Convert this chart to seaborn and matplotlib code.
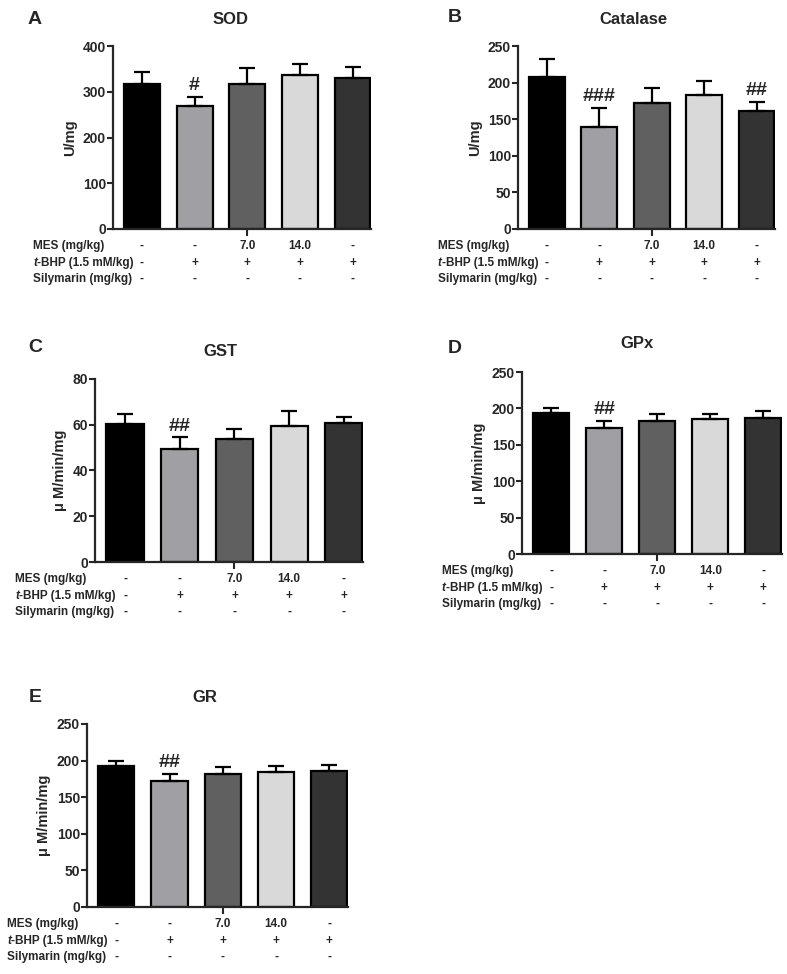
import numpy as np
import pandas as pd
import matplotlib
matplotlib.use('Agg')
import matplotlib.pyplot as plt
import seaborn as sns
from matplotlib.transforms import blended_transform_factory

sns.set_style('ticks')
plt.rcParams['font.family'] = ['Liberation Sans', 'DejaVu Sans']
plt.rcParams['font.weight'] = 'bold'
plt.rcParams['axes.labelweight'] = 'bold'

# --- Data ---
groups = ['G1', 'G2', 'G3', 'G4', 'G5']
bar_colors = ['#000000', '#a0a0a4', '#606060', '#d9d9d9', '#333333']

row_labels = ['MES (mg/kg)', '-BHP (1.5 mM/kg)', 'Silymarin (mg/kg)']
mes_row = ['-', '-', '7.0', '14.0', '-']
tbhp_row = ['-', '+', '+', '+', '+']
sily_row = ['-', '-', '-', '-', '-']

sod_mean = [318, 268, 317, 337, 329]
sod_err = [26, 20, 34, 23, 26]
sod_marks = ['', '#', '', '', '']

cat_mean = [207, 140, 172, 183, 161]
cat_err = [25, 25, 20, 19, 13]
cat_marks = ['', '###', '', '', '##']

gst_mean = [60.4, 49.3, 53.7, 59.5, 60.6]
gst_err = [4.2, 5.2, 4.5, 6.5, 3.0]
gst_marks = ['', '##', '', '', '']

gpx_mean = [193, 173, 183, 185, 187]
gpx_err = [7, 10, 9, 7, 9]
gpx_marks = ['', '##', '', '', '']

gr_mean = [192, 172, 182, 185, 186]
gr_err = [7, 10, 9, 7, 8]
gr_marks = ['', '##', '', '', '']

W, H = 787, 974
fig = plt.figure(figsize=(W / 100, H / 100), dpi=100)


def px_axes(l, t, r, b):
    return fig.add_axes([l / W, 1 - b / H, (r - l) / W, (b - t) / H])


def draw_panel(box, letter, letter_xy, title, title_xy, ylabel, ymax, ystep,
               mean, err, marks):
    ax = px_axes(*box)
    df = pd.DataFrame({'group': groups, 'value': mean})
    sns.barplot(data=df, x='group', y='value', hue='group', palette=bar_colors,
                legend=False, width=0.68, edgecolor='black', linewidth=1.6,
                errorbar=None, ax=ax)
    ax.errorbar(range(len(groups)), mean, yerr=[np.zeros(len(err)), err],
                fmt='none', ecolor='black', elinewidth=1.6, capsize=6,
                capthick=1.6, zorder=1)
    for i, m in enumerate(marks):
        if m:
            ax.annotate(m, xy=(i, mean[i] + err[i]), xytext=(0, 2),
                        textcoords='offset points', ha='center', va='bottom',
                        fontsize=14, fontweight='bold')

    ax.set_xlim(-0.55, 4.35)
    ax.set_ylim(0, ymax)
    ax.set_yticks(np.arange(0, ymax + 1, ystep))
    ax.set_xticks([2])
    ax.set_xticklabels([''])
    ax.set_xlabel('')
    ax.set_ylabel(ylabel, fontsize=10.5, labelpad=4)
    ax.tick_params(axis='y', labelsize=10, length=4, width=1.5, pad=1)
    ax.tick_params(axis='x', length=5, width=1.5)
    sns.despine(ax=ax)
    for s in ['left', 'bottom']:
        ax.spines[s].set_linewidth(1.6)

    # treatment table under the bars
    trans = blended_transform_factory(ax.transData, ax.transAxes)
    offsets = [-17, -34, -50]
    for dy, vals in zip(offsets, [mes_row, tbhp_row, sily_row]):
        for i, v in enumerate(vals):
            ax.annotate(v, xy=(i, 0), xycoords=trans, xytext=(0, dy),
                        textcoords='offset pixels', ha='center', va='center',
                        fontsize=8.5, annotation_clip=False)
    ax.annotate(row_labels[0], xy=(0, 0), xycoords='axes fraction',
                xytext=(-80, offsets[0]), textcoords='offset pixels',
                ha='left', va='center', fontsize=8.5)
    ax.annotate('t', xy=(0, 0), xycoords='axes fraction',
                xytext=(-80, offsets[1]), textcoords='offset pixels',
                ha='left', va='center', fontsize=8.5, fontstyle='italic')
    ax.annotate(row_labels[1], xy=(0, 0), xycoords='axes fraction',
                xytext=(-76, offsets[1]), textcoords='offset pixels',
                ha='left', va='center', fontsize=8.5)
    ax.annotate(row_labels[2], xy=(0, 0), xycoords='axes fraction',
                xytext=(-80, offsets[2]), textcoords='offset pixels',
                ha='left', va='center', fontsize=8.5)

    fig.text(letter_xy[0] / W, 1 - letter_xy[1] / H, letter, fontsize=14,
             ha='center', va='center')
    fig.text(title_xy[0] / W, 1 - title_xy[1] / H, title, fontsize=12,
             ha='center', va='center')
    return ax


draw_panel((113, 46, 371, 229), 'A', (35, 20), 'SOD', (231, 20), 'U/mg',
           400, 100, sod_mean, sod_err, sod_marks)
draw_panel((518, 46, 775, 229), 'B', (455, 17), 'Catalase', (633, 20), 'U/mg',
           250, 50, cat_mean, cat_err, cat_marks)
draw_panel((95, 379, 363, 562), 'C', (35, 347), 'GST', (220, 352),
           'μ M/min/mg', 80, 20, gst_mean, gst_err, gst_marks)
draw_panel((522, 372, 782, 554), 'D', (455, 348), 'GPx', (637, 343),
           'μ M/min/mg', 250, 50, gpx_mean, gpx_err, gpx_marks)
draw_panel((87, 724, 348, 907), 'E', (35, 697), 'GR', (205, 697),
           'μ M/min/mg', 250, 50, gr_mean, gr_err, gr_marks)

plt.savefig('out.png', dpi=100)
